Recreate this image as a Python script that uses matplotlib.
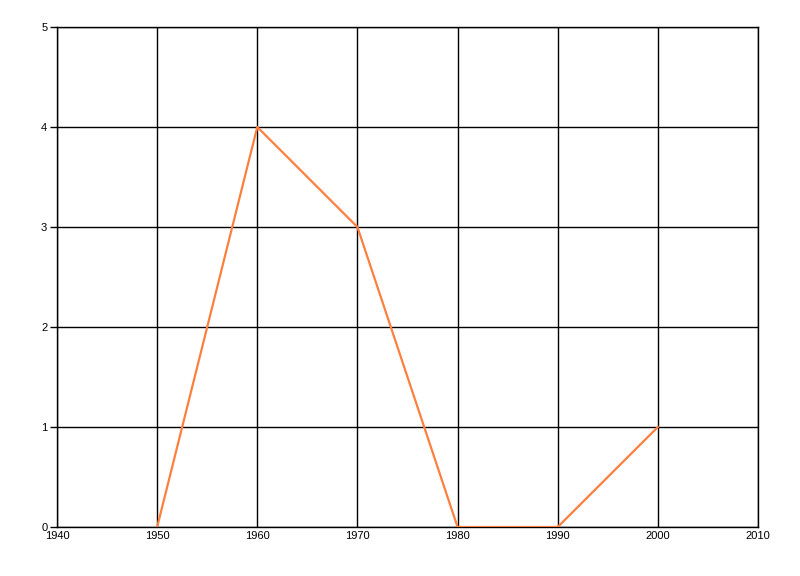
import matplotlib
matplotlib.use('Agg')
import matplotlib.pyplot as plt

# data
years = [1950, 1960, 1970, 1980, 1990, 2000]
values = [0, 4, 3, 0, 0, 1]
x_ticks = [1940, 1950, 1960, 1970, 1980, 1990, 2000, 2010]
y_ticks = [0, 1, 2, 3, 4, 5]

plt.rcParams['font.family'] = ['Liberation Sans', 'DejaVu Sans']

fig = plt.figure(figsize=(8, 5.76), dpi=100)
ax = fig.add_axes([57/800, 49/576, 701/800, 500/576])

ax.plot(years, values, color='#FF7F3F', linewidth=1.6, zorder=3)

ax.set_xlim(1940, 2010)
ax.set_ylim(0, 5)
ax.set_xticks(x_ticks)
ax.set_yticks(y_ticks)
ax.grid(True, color='black', linewidth=1)
ax.set_axisbelow(True)

# frame drawn in black so the edge grid lines are not clipped
for side in ['top', 'right', 'left', 'bottom']:
    ax.spines[side].set_color('black')
    ax.spines[side].set_linewidth(1)

ax.tick_params(axis='y', length=5, width=1, pad=2, labelsize=8)
ax.tick_params(axis='x', length=0, pad=3, labelsize=8)

plt.savefig('out.png', dpi=100)
